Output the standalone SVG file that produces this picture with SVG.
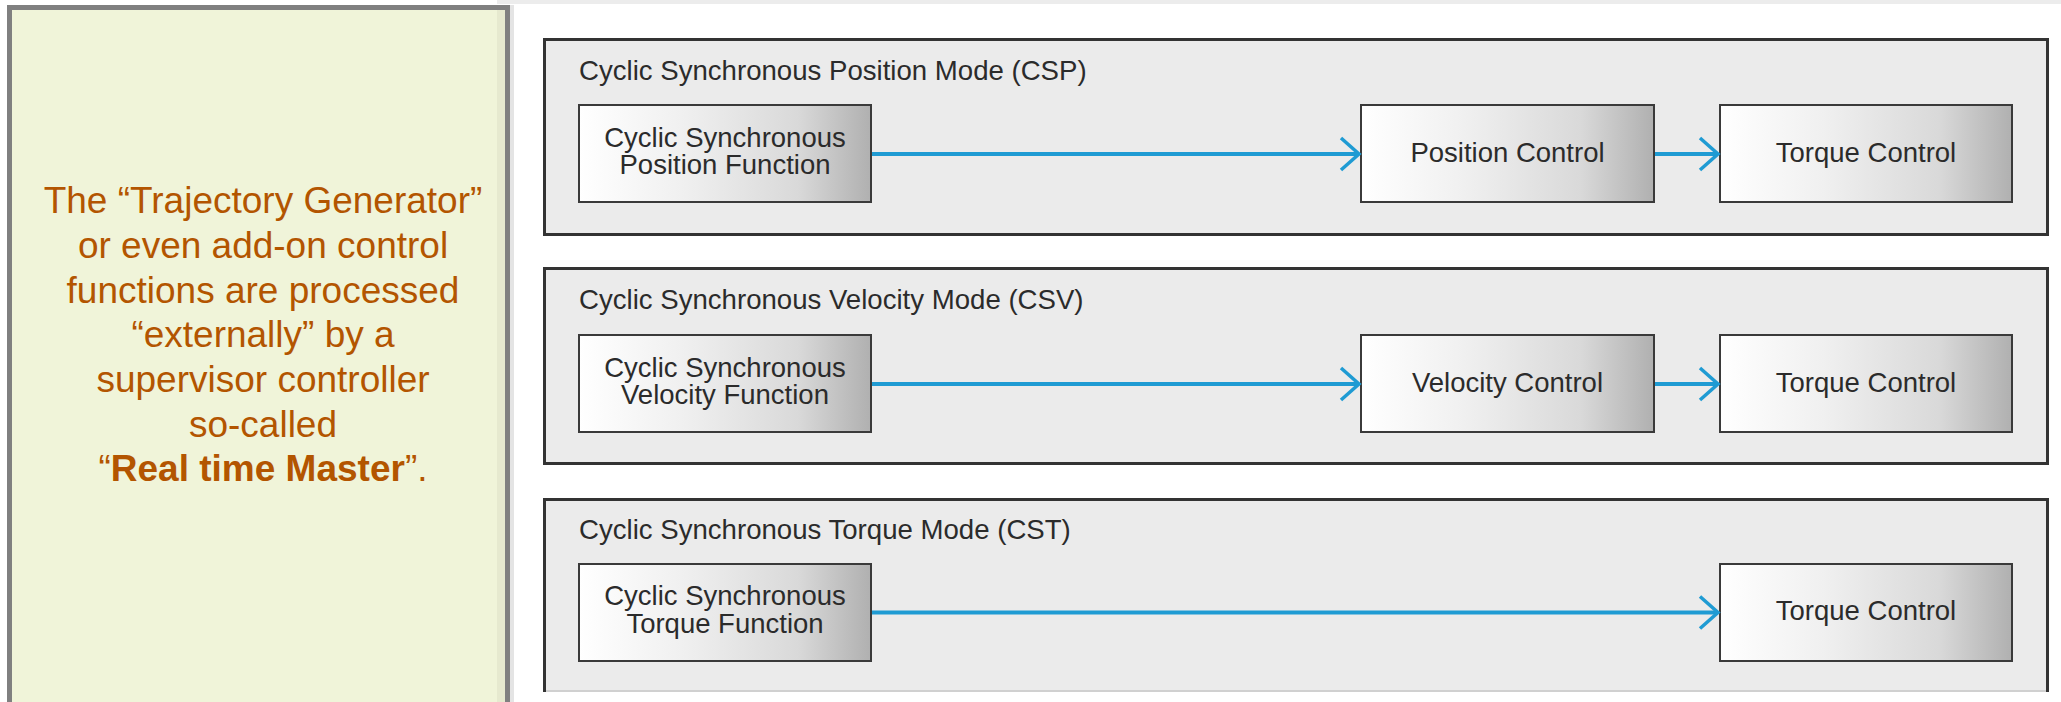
<svg xmlns="http://www.w3.org/2000/svg" width="2061" height="702" viewBox="0 0 2061 702">
  <style>
    .note { font-family: "Liberation Sans", Arial, sans-serif; font-size: 37px; fill: #b35500; text-anchor: middle; }
    .title { font-family: "Liberation Sans", Arial, sans-serif; font-size: 27.6px; fill: #2b2b2b; }
    .lbl { font-family: "Liberation Sans", Arial, sans-serif; font-size: 27.5px; fill: #2b2b2b; text-anchor: middle; }
    .panel { fill: #ebebeb; stroke: #333333; stroke-width: 3; }
    .box { fill: url(#boxgrad); stroke: #3a3a3a; stroke-width: 2; }
    .arrow { fill: none; stroke: #1f9bd3; stroke-width: 4; marker-end: url(#chev); }
  </style>
  <defs>
    <linearGradient id="boxgrad" x1="0" y1="0" x2="1" y2="0">
      <stop offset="0" stop-color="#ffffff"/>
      <stop offset="0.35" stop-color="#f0f0f0"/>
      <stop offset="0.75" stop-color="#d9d9d9"/>
      <stop offset="1" stop-color="#b0b0b0"/>
    </linearGradient>
    <marker id="chev" markerUnits="userSpaceOnUse" viewBox="0 0 24 36" refX="21" refY="18" markerWidth="24" markerHeight="36" orient="auto" overflow="visible">
      <path d="M3,2 L21,18 L3,34" fill="none" stroke="#1f9bd3" stroke-width="3.5" stroke-linejoin="miter"/>
    </marker>
  </defs>

  <rect x="0" y="0" width="2061" height="702" fill="#ffffff"/>
  <rect x="497" y="0" width="1564" height="4" fill="#ececec"/>

  <g id="note">
    <rect x="9.5" y="7.5" width="498" height="800" fill="#f0f4d9" stroke="#808080" stroke-width="5"/>
    <rect x="497" y="10" width="8" height="692" fill="#e6e9cf"/>
    <rect x="510" y="5" width="4" height="697" fill="#e4e4e4"/>
    <text class="note" x="263" y="213">The “Trajectory Generator”</text>
    <text class="note" x="263" y="258">or even add-on control</text>
    <text class="note" x="263" y="303">functions are processed</text>
    <text class="note" x="263" y="347">“externally” by a</text>
    <text class="note" x="263" y="392">supervisor controller</text>
    <text class="note" x="263" y="437">so-called</text>
    <text class="note" x="263" y="481">“<tspan font-weight="bold">Real time Master</tspan>”.</text>
  </g>

  <g id="csp-panel">
    <rect class="panel" x="544.5" y="39.5" width="1503" height="195"/>
    <text class="title" x="579" y="79.5">Cyclic Synchronous Position Mode (CSP)</text>
  </g>
  <g id="csv-panel">
    <rect class="panel" x="544.5" y="268.5" width="1503" height="195"/>
    <text class="title" x="579" y="308.5">Cyclic Synchronous Velocity Mode (CSV)</text>
  </g>
  <g id="cst-panel">
    <rect x="543" y="498" width="1506" height="194" fill="#ebebeb"/>
    <path d="M544.5,692 V499.5 H2047.5 V692" fill="none" stroke="#333333" stroke-width="3"/>
    <line x1="546" y1="691" x2="2046" y2="691" stroke="#d0d0d0" stroke-width="2"/>
    <text class="title" x="579" y="538.5">Cyclic Synchronous Torque Mode (CST)</text>
  </g>

  <g id="csp-function">
    <rect class="box" x="579" y="105" width="292" height="97"/>
    <text class="lbl" x="725" y="146.7">Cyclic Synchronous</text>
    <text class="lbl" x="725" y="174">Position Function</text>
  </g>
  <g id="csp-position-control">
    <rect class="box" x="1361" y="105" width="293" height="97"/>
    <text class="lbl" x="1507.5" y="161.5">Position Control</text>
  </g>
  <g id="csp-torque-control">
    <rect class="box" x="1720" y="105" width="292" height="97"/>
    <text class="lbl" x="1866" y="161.5">Torque Control</text>
  </g>

  <g id="csv-function">
    <rect class="box" x="579" y="335" width="292" height="97"/>
    <text class="lbl" x="725" y="376.7">Cyclic Synchronous</text>
    <text class="lbl" x="725" y="404">Velocity Function</text>
  </g>
  <g id="csv-velocity-control">
    <rect class="box" x="1361" y="335" width="293" height="97"/>
    <text class="lbl" x="1507.5" y="391.5">Velocity Control</text>
  </g>
  <g id="csv-torque-control">
    <rect class="box" x="1720" y="335" width="292" height="97"/>
    <text class="lbl" x="1866" y="391.5">Torque Control</text>
  </g>

  <g id="cst-function">
    <rect class="box" x="579" y="564" width="292" height="97"/>
    <text class="lbl" x="725" y="605">Cyclic Synchronous</text>
    <text class="lbl" x="725" y="633">Torque Function</text>
  </g>
  <g id="cst-torque-control">
    <rect class="box" x="1720" y="564" width="292" height="97"/>
    <text class="lbl" x="1866" y="619.5">Torque Control</text>
  </g>

  <g id="connectors">
    <line class="arrow" x1="872" y1="154" x2="1359" y2="154"/>
    <line class="arrow" x1="1655" y1="154" x2="1718" y2="154"/>
    <line class="arrow" x1="872" y1="384" x2="1359" y2="384"/>
    <line class="arrow" x1="1655" y1="384" x2="1718" y2="384"/>
    <line class="arrow" x1="872" y1="612.5" x2="1718" y2="612.5"/>
  </g>
</svg>
